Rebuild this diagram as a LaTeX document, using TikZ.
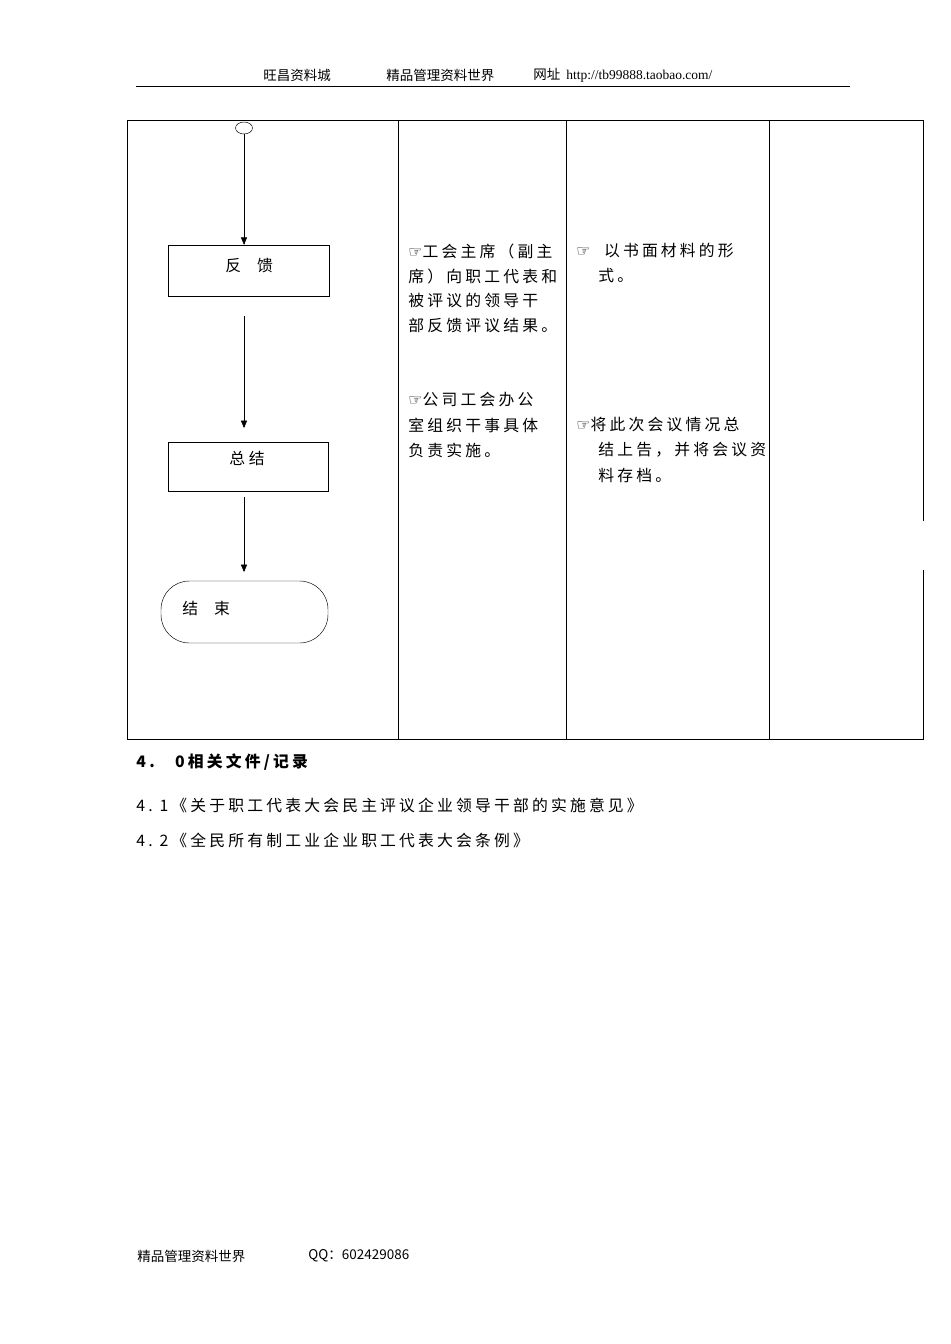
\documentclass[tikz,border=0pt]{standalone}
\usepackage{fontspec}
\setmainfont{Liberation Serif}
\newfontfamily\cjk{Noto Sans CJK SC}
\newfontfamily\cjksp{Noto Sans CJK SC}[LetterSpace=20]
\newfontfamily\cjkrec{Noto Sans CJK SC}[LetterSpace=20]
\newfontfamily\sym{DejaVu Sans}
\usetikzlibrary{arrows,shapes.geometric}
\newcommand{\hand}{{\sym\symbol{"261E}}}
\begin{document}
\begin{tikzpicture}[
    x=0.03cm, y=-0.03cm,
    thick,
    >=triangle 45,
    step box/.style = {draw, thin, minimum width=161*0.03cm, minimum height=51*0.03cm},
    end box/.style = {draw, thin, rounded corners=0.85cm, minimum width=167*0.03cm, minimum height=62*0.03cm},
    line/.style = {anchor=west, inner sep=0pt, font=\cjksp\fontsize{13.5}{14}\selectfont},
    body/.style = {anchor=west, inner sep=0pt, font=\cjk\fontsize{13.5}{14}\selectfont},
    head/.style = {anchor=west, inner sep=0pt, font=\cjk\fontsize{11.5}{12}\selectfont},
    rec/.style = {anchor=west, inner sep=0pt, font=\cjkrec\fontsize{13.5}{14}\selectfont}
  ]
  \useasboundingbox (0,0) rectangle (950,1344);

  % header
  \node[head] (h1) at (263,75) {旺昌资料城};
  \node[head] (h2) at (386,75) {精品管理资料世界};
  \node[head] (h3) at (533,75) {网址\ \ {\rmfamily http://tb99888.taobao.com/}};
  \draw[thin] (136,86) -- (850,86);

  % table
  \draw[thin] (923,521) -- (923,120) -- (127,120) -- (127,739) -- (923,739) -- (923,570);
  \draw[thin] (398,120) -- (398,739);
  \draw[thin] (566,120) -- (566,739);
  \draw[thin] (769,120) -- (769,739);

  % flow
  \node[draw, thin, ellipse, minimum width=17*0.03cm, minimum height=12*0.03cm, inner sep=0pt] (start) at (244,128) {};
  \node[step box] (fk) at (248.5,270.5) {};
  \node[body] (fkt) at (225,266) {反\quad 馈};
  \node[step box, minimum width=160*0.03cm, minimum height=49*0.03cm] (zj) at (248,466.5) {};
  \node[body] (zjt) at (229,458) {总\ 结};
  \node[end box] (end) at (244.5,612) {};
  \node[body] (endt) at (182,608) {结\quad 束};

  \coordinate (fkout) at (244,316);
  \coordinate (zjin) at (244,428);
  \coordinate (zjout) at (244,497);
  \coordinate (endin) at (244,572);
  \draw[thin, ->] (start) -- (start |- fk.north);
  \draw[thin, ->] (fkout) -- (zjin);
  \draw[thin, ->] (zjout) -- (endin);

  % column 2
  \node[line] (a1) at (408,251) {\hand 工会主席（副主};
  \node[line] (a2) at (408,276) {席）向职工代表和};
  \node[line] (a3) at (408,301) {被评议的领导干};
  \node[line] (a4) at (408,326) {部反馈评议结果。};
  \node[line] (b1) at (408,400) {\hand 公司工会办公};
  \node[line] (b2) at (408,425) {室组织干事具体};
  \node[line] (b3) at (408,450) {负责实施。};

  % column 3
  \node[line] (c1) at (576,251) {\hand\ \ 以书面材料的形};
  \node[line] (c2) at (598,276) {式。};
  \node[line] (d1) at (576,425) {\hand 将此次会议情况总};
  \node[line] (d2) at (598,450) {结上告，并将会议资};
  \node[line] (d3) at (598,475) {料存档。};

  % records
  \node[rec, font=\cjkrec\bfseries\fontsize{13.5}{14}\selectfont] (r0) at (136,762) {4.\ \ \ 0相关文件/记录};
  \node[rec] (r1) at (136,805) {4.\ 1《关于职工代表大会民主评议企业领导干部的实施意见》};
  \node[rec] (r2) at (136,840) {4.\ 2《全民所有制工业企业职工代表大会条例》};

  % footer
  \node[head] (f1) at (137,1256) {精品管理资料世界};
  \node[head] (f2) at (308,1256) {QQ：602429086};
\end{tikzpicture}
\end{document}
